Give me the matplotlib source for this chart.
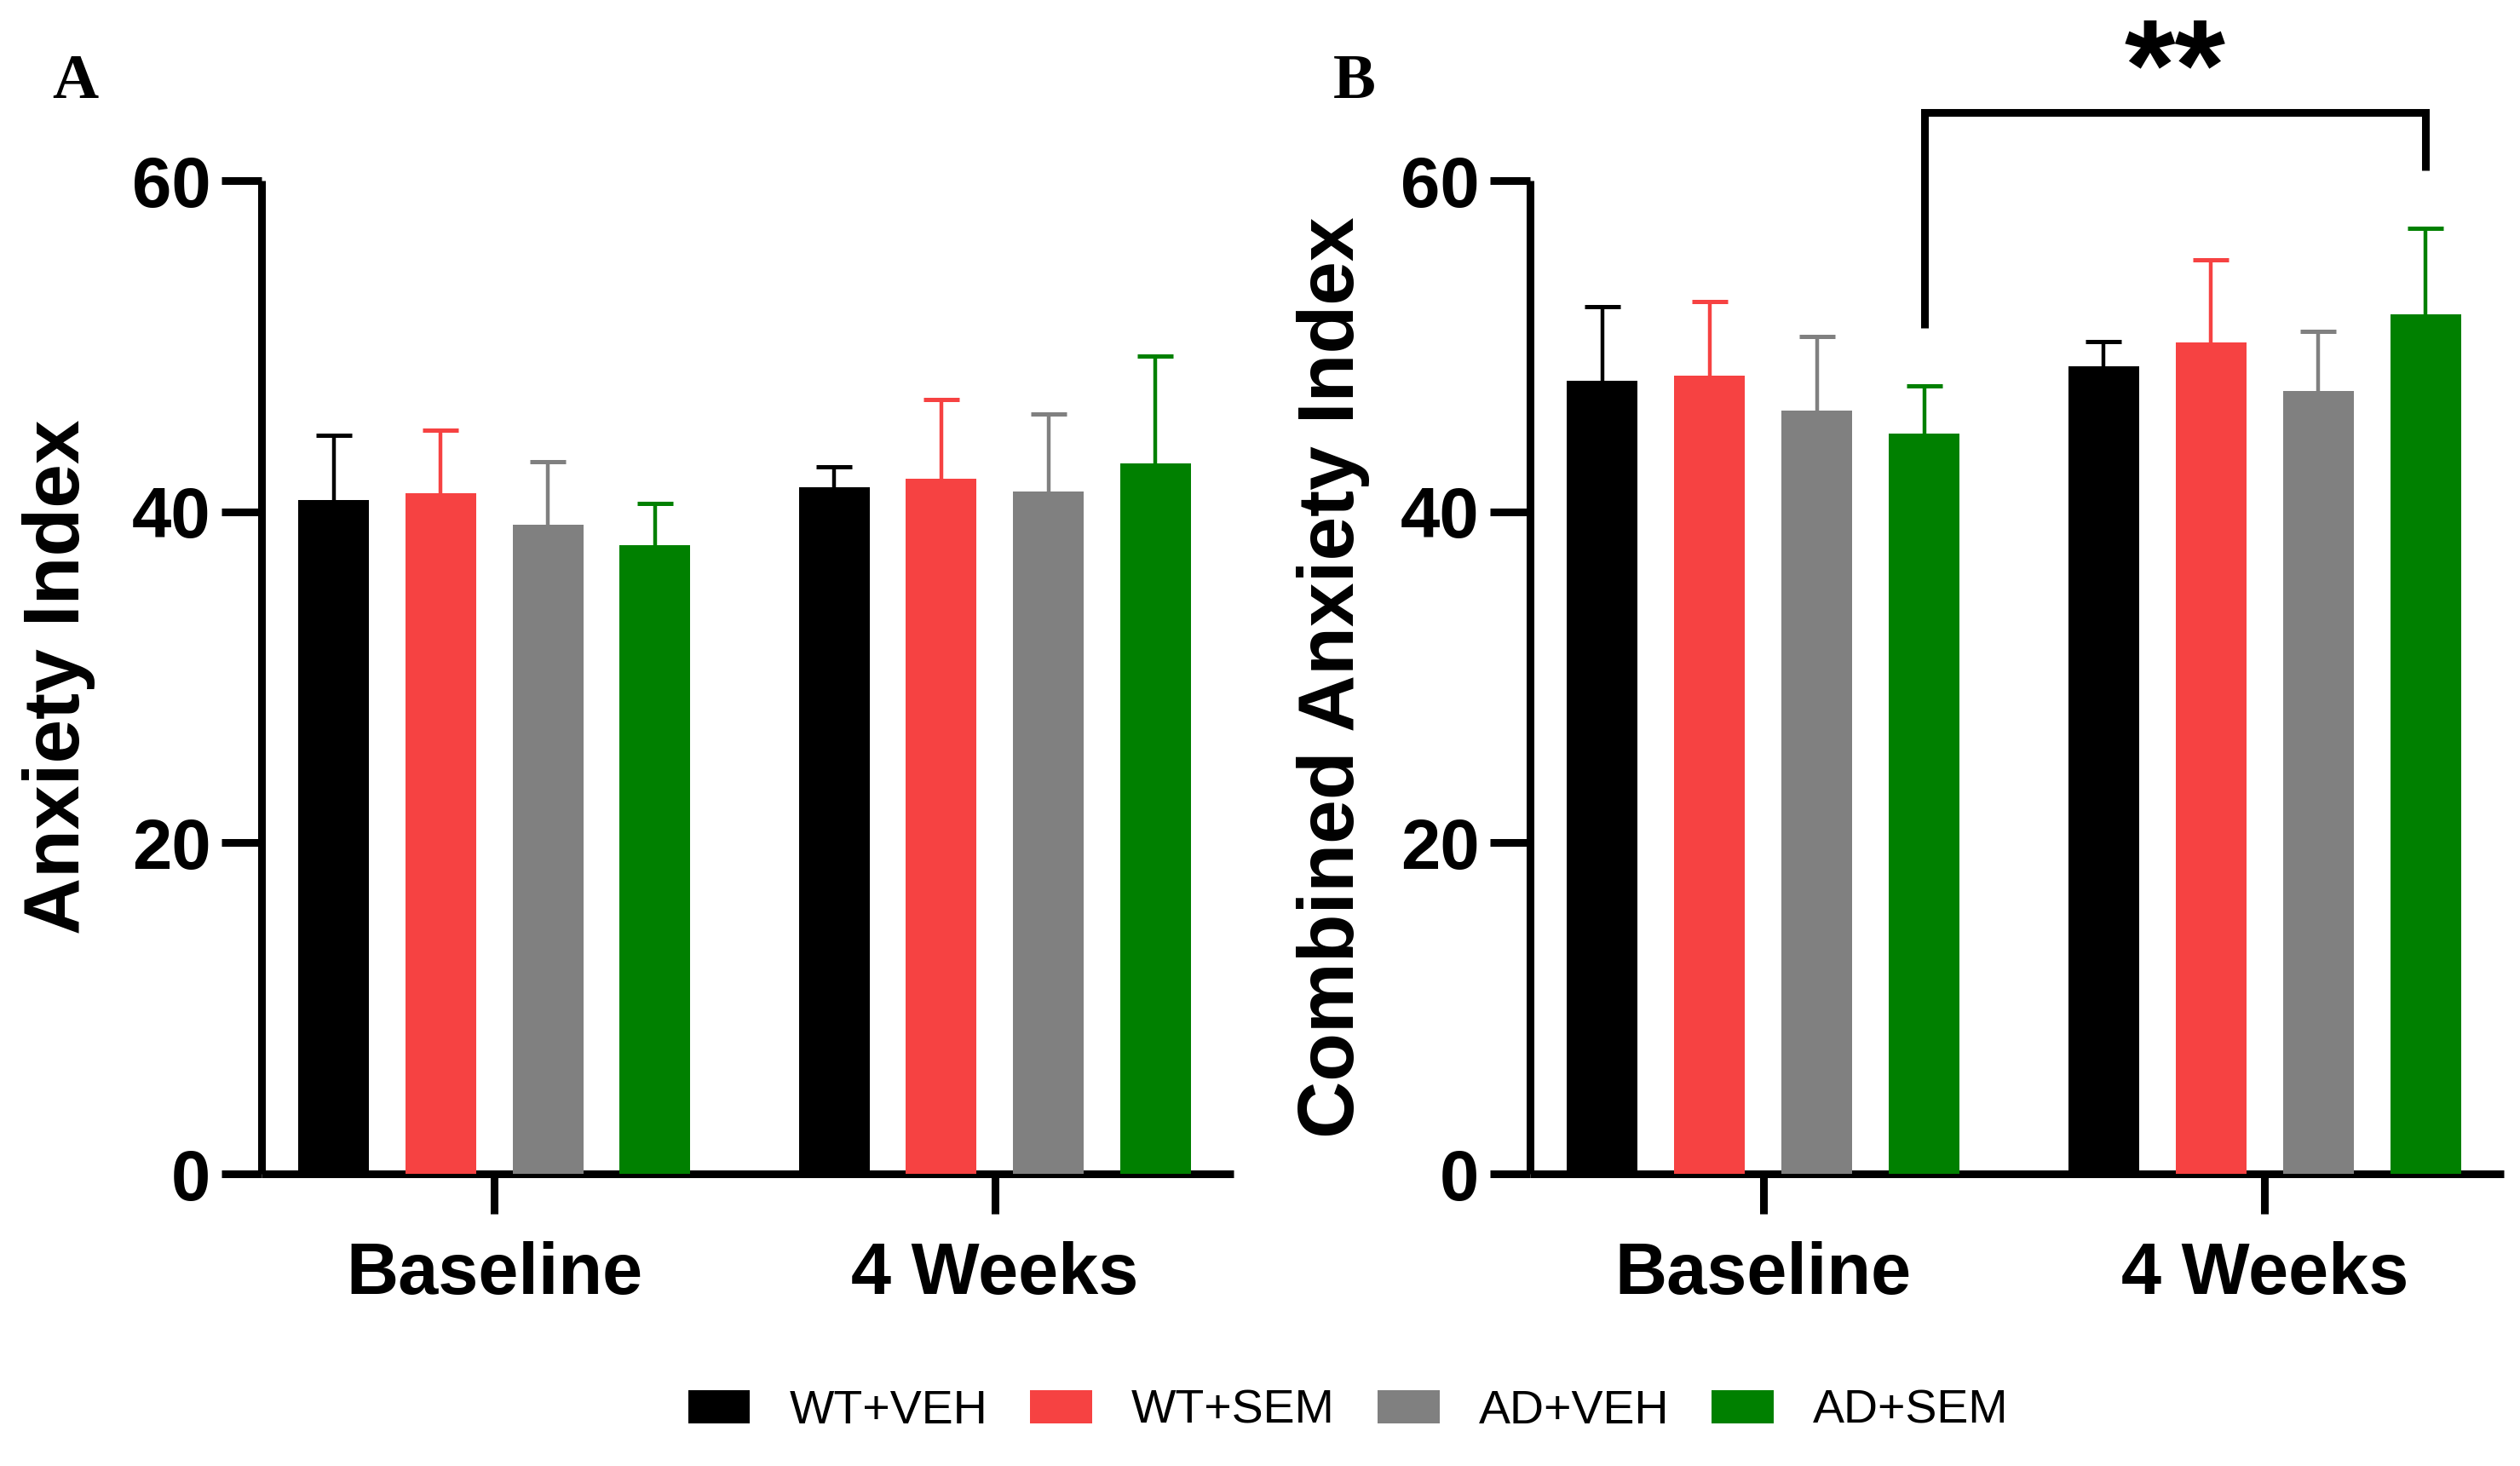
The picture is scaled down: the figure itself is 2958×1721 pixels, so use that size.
import numpy as np
import matplotlib
matplotlib.use('Agg')
import matplotlib.pyplot as plt

plt.rcParams['font.family'] = ['Liberation Sans', 'DejaVu Sans']

# data
timepoints = ['Baseline', '4 Weeks']
groups = ['WT+VEH', 'WT+SEM', 'AD+VEH', 'AD+SEM']
colors = ['#000000', '#F64242', '#808080', '#008000']

# panel A - anxiety index (mean, upper SEM) per group, [baseline, 4 weeks]
anx_mean = [[40.7, 41.5], [41.1, 42.0], [39.2, 41.2], [38.0, 42.9]]
anx_sem = [[3.9, 1.2], [3.8, 4.8], [3.8, 4.7], [2.5, 6.5]]

# panel B - combined anxiety index
comb_mean = [[47.9, 48.8], [48.2, 50.2], [46.1, 47.3], [44.7, 51.9]]
comb_sem = [[4.5, 1.5], [4.5, 5.0], [4.5, 3.6], [2.9, 5.2]]

# significance bracket in panel B (AD+SEM baseline vs AD+SEM 4 weeks)
bracket_y = [51.1, 64.1, 64.1, 60.6]
bracket_label = '**'

x = np.arange(len(timepoints))
pitch = 0.214
width = 0.141
offsets = (np.arange(len(groups)) - 1.5) * pitch

fig = plt.figure(figsize=(29.58, 17.21), dpi=100)
axA = fig.add_axes([0.1038, 0.1993, 0.3857, 0.6775])
axB = fig.add_axes([0.6072, 0.1993, 0.3864, 0.6775])


def draw_panel(ax, means, sems, ylabel, label_x):
    for i, g in enumerate(groups):
        xs = x + offsets[i]
        ax.bar(xs, means[i], width=width, color=colors[i], edgecolor='none',
               zorder=3, label=g)
        eb = ax.errorbar(xs, means[i], yerr=[np.zeros(len(xs)), sems[i]],
                         fmt='none', ecolor=colors[i], elinewidth=3.2,
                         capsize=14.8, capthick=3.6, zorder=2)
        eb[1][0].set_visible(False)  # no lower caps
    ax.set_xlim(-0.465, 1.477)
    ax.set_ylim(0, 60)
    ax.set_yticks([0, 20, 40, 60])
    ax.set_xticks(x)
    ax.set_xticklabels(timepoints)
    for s in ['top', 'right']:
        ax.spines[s].set_visible(False)
    for s in ['left', 'bottom']:
        ax.spines[s].set_linewidth(6.5)
        ax.spines[s].set_capstyle('butt')
    ax.tick_params(axis='y', length=34, width=6.5, pad=9, labelsize=60)
    ax.tick_params(axis='x', length=34, width=6.5, pad=23, labelsize=61)
    for t in ax.get_xticklabels() + ax.get_yticklabels():
        t.set_fontweight('bold')
    ax.set_ylabel(ylabel, fontsize=67, fontweight='bold')
    ax.yaxis.set_label_coords(label_x, 0.5)


draw_panel(axA, anx_mean, anx_sem, 'Anxiety Index', -0.171)
draw_panel(axB, comb_mean, comb_sem, 'Combined Anxiety Index', -0.165)

# bracket
bx = [x[0] + offsets[3], x[0] + offsets[3], x[1] + offsets[3], x[1] + offsets[3]]
axB.plot(bx, bracket_y, color='black', lw=6.5, clip_on=False,
         solid_joinstyle='miter', solid_capstyle='butt')
axB.text((bx[0] + bx[-1]) / 2, 66.3, bracket_label, ha='center', va='center',
         fontsize=110, fontweight='bold', clip_on=False)

# panel letters
fig.text(0.0206, 0.9332, 'A', fontsize=54, fontweight='bold',
         family='Liberation Serif', va='baseline')
fig.text(0.529, 0.9332, 'B', fontsize=54, fontweight='bold',
         family='Liberation Serif', va='baseline')

handles, labels = axA.get_legend_handles_labels()
fig.legend(handles, labels, loc='center', bbox_to_anchor=(0.535, 0.0372),
           ncol=4, frameon=False, fontsize=40, handlelength=1.31,
           handleheight=0.68, handletextpad=0.83, columnspacing=0.9)

fig.savefig('out.png', dpi=100)
